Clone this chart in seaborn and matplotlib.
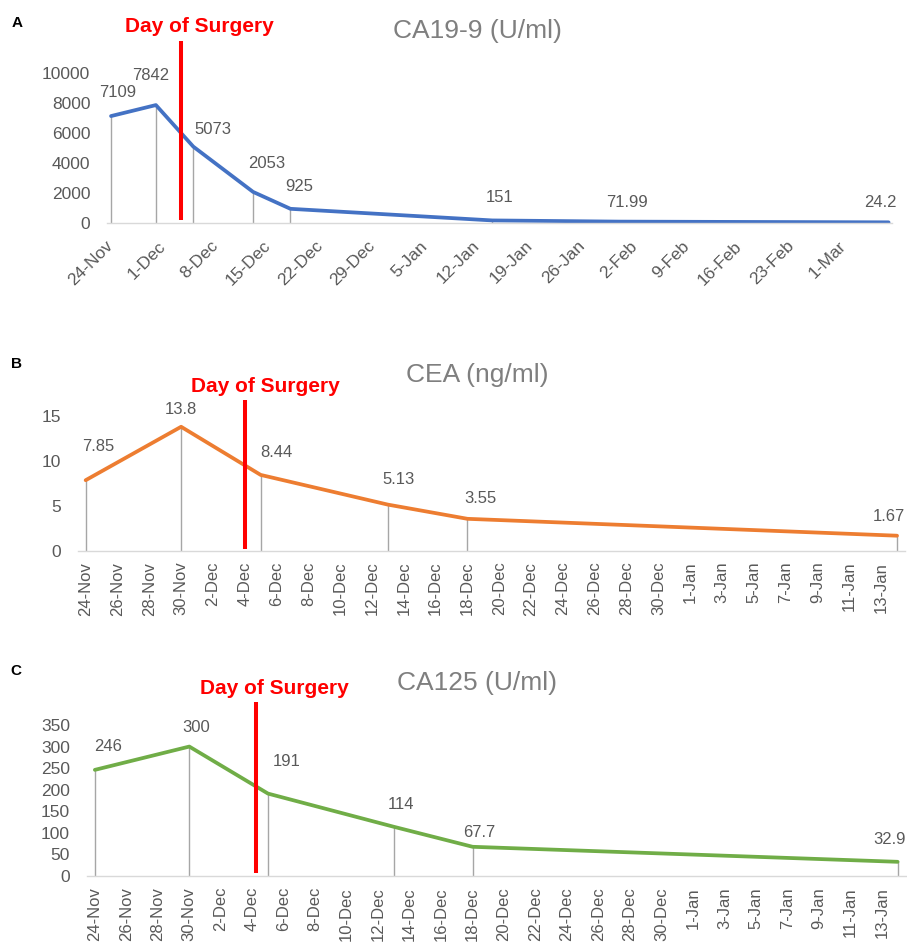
import matplotlib
matplotlib.use("Agg")
import matplotlib.pyplot as plt
import matplotlib.dates as mdates
import matplotlib.transforms as mtransforms
from matplotlib import font_manager
import seaborn as sns
import pandas as pd

# ---------------- data ----------------
ca199_dates = ["2019-11-24", "2019-11-30", "2019-12-05", "2019-12-13",
               "2019-12-18", "2020-01-14", "2020-01-31", "2020-03-07"]
ca199_values = [7109, 7842, 5073, 2053, 925, 151, 71.99, 24.2]

cea_dates = ["2019-11-24", "2019-11-30", "2019-12-05", "2019-12-13",
             "2019-12-18", "2020-01-14"]
cea_values = [7.85, 13.8, 8.44, 5.13, 3.55, 1.67]

ca125_dates = ["2019-11-24", "2019-11-30", "2019-12-05", "2019-12-13",
               "2019-12-18", "2020-01-14"]
ca125_values = [246, 300, 191, 114, 67.7, 32.9]

titles = ["CA19-9 (U/ml)", "CEA (ng/ml)", "CA125 (U/ml)"]
panel_letters = ["A", "B", "C"]
surgery_label = "Day of Surgery"
surgery_dates = ["2019-12-03 09:00", "2019-12-04 00:00", "2019-12-04 05:00"]

ca199_yticks = [0, 2000, 4000, 6000, 8000, 10000]
cea_yticks = [0, 5, 10, 15]
ca125_yticks = [0, 50, 100, 150, 200, 250, 300, 350]

# x tick label ranges (first label, last label, step in days)
ca199_xticks = ("2019-11-24", "2020-03-01", 7)
cea_xticks = ("2019-11-24", "2020-01-13", 2)
ca125_xticks = ("2019-11-24", "2020-01-13", 2)

# ---------------- style ----------------
sns.set_style("white")
names = {f.name for f in font_manager.fontManager.ttflist}
SANS = "Liberation Sans" if "Liberation Sans" in names else "DejaVu Sans"
plt.rcParams["font.family"] = [SANS, "DejaVu Sans"]

W, H = 907, 942
fig = plt.figure(figsize=(W / 100, H / 100), dpi=100)

TXT = "#595959"
AXC = "#D9D9D9"

panels = [
    dict(dates=ca199_dates, values=ca199_values, color="#4472C4",
         yticks=ca199_yticks, xt=ca199_xticks, rot=45,
         box=(107.3, 892.3, 222.7, 72.7),
         offsets=[(7, 24), (-5, 30), (20, 17), (14, 28), (9, 22), (7, 23), (8, 19), (-8, 20)],
         red=(0.018, 1.211), title_xy=(477, 31), surg_xy=(199, 27), letter_xy=(17, 23)),
    dict(dates=cea_dates, values=cea_values, color="#ED7D31",
         yticks=cea_yticks, xt=cea_xticks, rot=90,
         box=(77.7, 905.0, 550.7, 416.0),
         offsets=[(13, 34), (0, 17), (16, 22), (11, 25), (13, 20), (-8, 19)],
         red=(0.013, 1.119), title_xy=(477, 375), surg_xy=(265, 386), letter_xy=(17, 364)),
    dict(dates=ca125_dates, values=ca125_values, color="#70AD47",
         yticks=ca125_yticks, xt=ca125_xticks, rot=90,
         box=(87.0, 905.5, 876.0, 725.0),
         offsets=[(13, 23), (7, 19), (19, 32), (7, 22), (7, 14), (-8, 22)],
         red=(0.02, 1.154), title_xy=(477, 683), surg_xy=(274, 688), letter_xy=(16, 671)),
]

half = pd.Timedelta(hours=12)

for i, p in enumerate(panels):
    l, r, yb, yt = p["box"]
    ax = fig.add_axes([l / W, 1 - yb / H, (r - l) / W, (yb - yt) / H])
    df = pd.DataFrame({"date": pd.to_datetime(p["dates"]), "value": p["values"]})

    ax.vlines(df["date"], 0, df["value"], color="#A6A6A6", lw=1.0, zorder=1)
    sns.lineplot(data=df, x="date", y="value", ax=ax, color=p["color"],
                 lw=2.7, zorder=2, solid_capstyle="round")

    xmin = df["date"].min() - half
    xmax = df["date"].max() + half
    ax.set_xlim(xmin, xmax)
    ax.set_ylim(p["yticks"][0], p["yticks"][-1])
    ax.set(xlabel="", ylabel="")

    # ticks
    start, end, step = p["xt"]
    tdates = pd.date_range(start, end, freq=f"{step}D")
    ax.set_xticks(tdates)
    ax.set_xticklabels([f"{t.day}-{t.strftime('%b')}" for t in tdates])
    minor = pd.date_range(xmin, xmax, freq=f"{step}D")
    ax.set_xticks(minor, minor=True)
    ax.tick_params(axis="x", which="minor", length=4.3, width=1.0, color=AXC,
                   direction="out")
    if p["rot"] == 45:
        ax.tick_params(axis="x", which="major", length=0, pad=15,
                       labelsize=12.5, labelcolor=TXT)
        for lab in ax.get_xticklabels():
            lab.set_rotation(45)
            lab.set_ha("right")
            lab.set_va("center")
            lab.set_rotation_mode("anchor")
    else:
        ax.tick_params(axis="x", which="major", length=0, pad=7.9,
                       labelsize=12, labelcolor=TXT, labelrotation=90)

    ax.set_yticks(p["yticks"])
    ax.set_yticklabels([str(v) for v in p["yticks"]])
    ax.tick_params(axis="y", length=0, pad=12.2, labelsize=12.5, labelcolor=TXT)

    for s in ["top", "right", "left"]:
        ax.spines[s].set_visible(False)
    ax.spines["bottom"].set_color(AXC)
    ax.spines["bottom"].set_linewidth(1.0)
    ax.patch.set_alpha(0)

    # data labels
    for (d, v), (dx, dy) in zip(zip(df["date"], df["value"]), p["offsets"]):
        ax.annotate(f"{v:g}", (d, v), xytext=(dx, dy), textcoords="offset pixels",
                    ha="center", va="center", fontsize=12, color=TXT,
                    annotation_clip=False)

    # surgery line
    trans = mtransforms.blended_transform_factory(ax.transData, ax.transAxes)
    sx = mdates.date2num(pd.Timestamp(surgery_dates[i]))
    ax.plot([sx, sx], list(p["red"]), transform=trans, color="#FF0000", lw=2.9,
            clip_on=False, zorder=5, solid_capstyle="butt")

    # texts
    tx, ty = p["title_xy"]
    fig.text(tx / W, 1 - ty / H, titles[i], ha="center", va="center",
             fontsize=19, color="#7F7F7F")
    sxp, syp = p["surg_xy"]
    fig.text(sxp / W, 1 - syp / H, surgery_label, ha="center", va="center",
             fontsize=15, color="#FF0000", fontweight="bold")
    lx, ly = p["letter_xy"]
    fig.text(lx / W, 1 - ly / H, panel_letters[i], ha="center", va="center",
             fontsize=11, color="black", fontweight="bold")

fig.savefig("out.png", dpi=100)
